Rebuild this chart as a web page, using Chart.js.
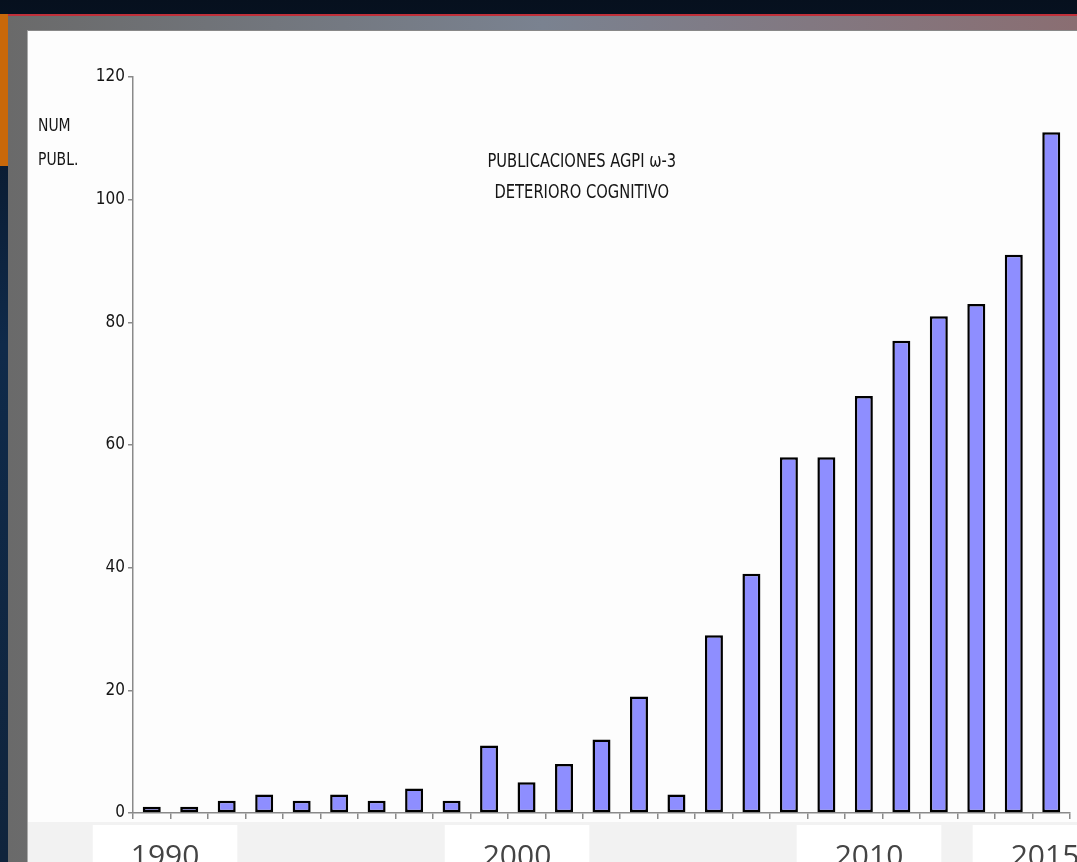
<!DOCTYPE html>
<html>
<head>
<meta charset="utf-8">
<script src="https://cdn.jsdelivr.net/npm/chart.js@4.4.1/dist/chart.umd.min.js"></script>
<style>
  html, body { margin: 0; padding: 0; width: 1077px; height: 862px; overflow: hidden; }
  body { background: linear-gradient(180deg, #06101e 0%, #0f2a4a 40%, #10243c 100%); position: relative; }
  #strip { position: absolute; left: 0; top: 14px; width: 8px; height: 152px; background: #c8680a; }
  #frame { position: absolute; left: 8px; top: 14px; right: 0; bottom: 0;
           border-top: 2px solid #c0303a;
           background: linear-gradient(90deg, #6a6a6a 0%, #7a8290 50%, #8a6e72 100%); }
  #card { position: absolute; left: 27px; top: 30px; right: 0; bottom: 0;
          background: #fdfdfd; border-left: 1px solid #aaa; border-top: 1px solid #888; }
  #band { position: absolute; left: 28px; top: 822px; right: 0; bottom: 0; background: #f2f2f2; }
  #wrap { position: absolute; left: 0; top: 0; width: 1077px; height: 900px; }
</style>
</head>
<body>
<div id="strip"></div>
<div id="frame"></div>
<div id="card"></div>
<div id="band"></div>
<div id="wrap"><canvas id="pubChart"></canvas></div>
<script>
// publicaciones por año
var years = ["1991","1992","1993","1994","1995","1996","1997","1998","1999","2000",
             "2001","2002","2003","2004","2005","2006","2007","2008","2009","2010",
             "2011","2012","2013","2014","2015"];
var pubs = [1,1,2,3,2,3,2,4,2,11,5,8,12,19,3,29,39,58,58,68,77,81,83,91,111];
var yTicks = [0,20,40,60,80,100,120];
var yearMarks = [1990,2000,2010,2015];
var titleLines = ["PUBLICACIONES AGPI \u03c9-3", "DETERIORO COGNITIVO"];
var axisTitle = ["NUM", "PUBL."];

var narrow = "'DejaVu Sans Condensed', 'Liberation Sans Narrow', 'Liberation Sans', Arial, sans-serif";

// squeezed text, like the narrow font of the slide
function narrowText(ctx, txt, x, y, sx) {
  ctx.save();
  ctx.translate(x, y);
  ctx.scale(sx, 1);
  ctx.fillText(txt, 0, 0);
  ctx.restore();
}

let textPlugin = {
  id: "slideText",
  afterDraw(chart) {
    let ctx = chart.ctx;
    let area = chart.chartArea;
    ctx.save();
    ctx.fillStyle = "#151515";
    ctx.font = "18px " + narrow;
    ctx.textBaseline = "middle";
    ctx.textAlign = "left";
    narrowText(ctx, axisTitle[0], 38, 126, 0.86);
    narrowText(ctx, axisTitle[1], 38, 160, 0.86);
    ctx.font = "19px " + narrow;
    ctx.textAlign = "center";
    let cx = area.left + (area.right - area.left) * 0.479;
    narrowText(ctx, titleLines[0], cx, 162, 0.86);
    narrowText(ctx, titleLines[1], cx, 193, 0.86);
    ctx.restore();
  }
};

let pubChart = new Chart("pubChart", {
  type: "bar",
  data: {
    labels: years,
    datasets: [{
      label: "Publicaciones",
      data: pubs,
      backgroundColor: "#8e8eff",
      borderColor: "#000000",
      borderWidth: 2.5,
      borderSkipped: false,
      categoryPercentage: 1,
      barPercentage: 0.48,
      xAxisID: "x",
      yAxisID: "y"
    }]
  },
  options: {
    responsive: true,
    maintainAspectRatio: false,
    animation: false,
    layout: { padding: { top: 77, right: 7, left: 0, bottom: 0 } },
    plugins: {
      legend: { display: false },
      title: { display: false },
      tooltip: { enabled: false }
    },
    scales: {
      x: {
        type: "category",
        position: "bottom",
        offset: true,
        afterFit: function(s) { s.height = 12; },
        grid: { offset: true, drawOnChartArea: false, drawTicks: true, tickLength: 6, color: "#8a8a8a", lineWidth: 1.5 },
        border: { color: "#8a8a8a", width: 1.5 },
        ticks: { display: false }
      },
      x2: {
        type: "linear",
        position: "bottom",
        offset: false,
        min: 1989.09,
        max: 2015.71,
        afterFit: function(s) {
          s.height = 75;
          s.paddingLeft = 0;
          s.paddingRight = 0;
        },
        afterBuildTicks: function(s) {
          s.ticks = yearMarks.map(function(v) { return { value: v }; });
        },
        grid: { display: false, drawTicks: false, offset: false },
        border: { display: false },
        ticks: {
          padding: 14,
          color: "#444444",
          font: { size: 30, family: "'Open Sans', sans-serif" },
          maxRotation: 0,
          autoSkip: false,
          callback: function(v) { return String(v); },
          showLabelBackdrop: true,
          backdropColor: "#ffffff",
          backdropPadding: { top: 18, bottom: 20, left: 38, right: 38 }
        }
      },
      y: {
        min: 0,
        max: 120,
        afterFit: function(s) { s.width = 133; },
        afterBuildTicks: function(s) { s.ticks = yTicks.map(function(v) { return { value: v }; }); },
        grid: { drawOnChartArea: false, drawTicks: true, tickLength: 5, color: "#8a8a8a", lineWidth: 1.5 },
        border: { color: "#8a8a8a", width: 1.5 },
        ticks: {
          padding: 3,
          color: "#151515",
          font: { size: 17, family: narrow }
        }
      }
    }
  },
  plugins: [textPlugin]
});
</script>
</body>
</html>
